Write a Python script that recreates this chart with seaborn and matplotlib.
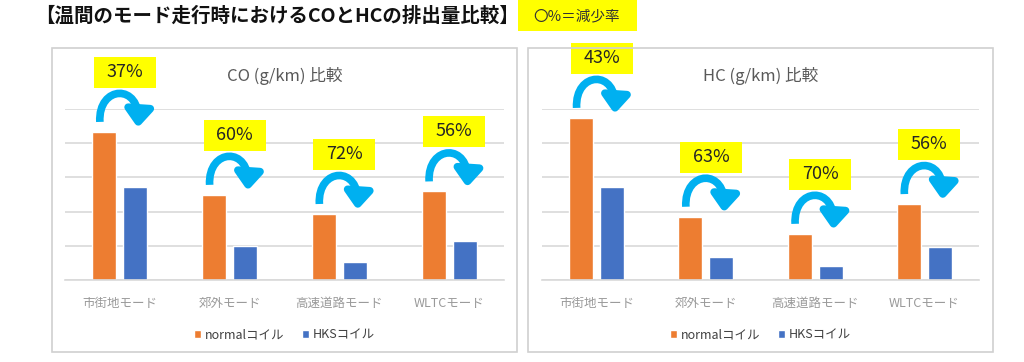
import numpy as np
import matplotlib
matplotlib.use("Agg")
import matplotlib.pyplot as plt
import matplotlib.transforms as mtransforms
from matplotlib.path import Path
from matplotlib.patches import FancyArrowPatch, Rectangle
import seaborn as sns
import pandas as pd

sns.set_theme(style="white")
plt.rcParams['font.family'] = ['Noto Sans CJK JP', 'DejaVu Sans']

# data (gridline units, no axis values shown)
modes = ["市街地モード", "郊外モード", "高速道路モード", "WLTCモード"]
coils = ["normalコイル", "HKSコイル"]
co_normal = [4.33, 2.49, 1.93, 2.59]
co_hks = [2.73, 1.00, 0.54, 1.13]
hc_normal = [4.74, 1.85, 1.35, 2.22]
hc_hks = [2.71, 0.68, 0.40, 0.97]
co_reduction = [37, 60, 72, 56]
hc_reduction = [43, 63, 70, 56]

ORANGE = "#ED7D31"
BLUE = "#4472C4"
ARROW = "#00B0F0"
GRID = "#D9D9D9"

W, H = 1024, 362
fig = plt.figure(figsize=(W / 100, H / 100), dpi=100)


def px_rect(x0, y0, x1, y1):
    # pixel box (top-left origin) -> figure fraction
    return [x0 / W, 1 - y1 / H, (x1 - x0) / W, (y1 - y0) / H]


# panel frames
for x0, x1 in [(52, 517), (528, 993)]:
    fig.patches.append(Rectangle((x0 / W, 1 - 352 / H), (x1 - x0) / W, (352 - 48) / H,
                                 transform=fig.transFigure, fill=False,
                                 edgecolor="#D0D0D0", linewidth=1.2))

fig.text(35 / W, 1 - 16 / H, "【温間のモード走行時におけるCOとHCの排出量比較】",
         fontsize=14, fontweight="bold", color="#111111", va="center", ha="left")
fig.patches.append(Rectangle((518 / W, 1 - 31 / H), (637 - 518) / W, 31 / H,
                             transform=fig.transFigure, facecolor="#FFFF00",
                             edgecolor="none"))
fig.text(577 / W, 1 - 16 / H, "〇%＝減少率", fontsize=10.5, color="#333333",
         va="center", ha="center")


def panel(rect, title, normal, hks, reduction):
    ax = fig.add_axes(rect)
    df = pd.DataFrame({
        "mode": modes * 2,
        "coil": [coils[0]] * 4 + [coils[1]] * 4,
        "value": list(normal) + list(hks),
    })
    sns.barplot(data=df, x="mode", y="value", hue="coil", order=modes,
                hue_order=coils, palette=[ORANGE, BLUE], width=0.565, gap=0.22,
                saturation=1, ax=ax)
    ax.set_ylim(0, 5)
    ax.set_xlim(-0.5, 3.5)
    ax.set_yticks(np.arange(0, 6))
    ax.yaxis.grid(True, color=GRID, linewidth=1.2)
    ax.set_axisbelow(True)
    ax.tick_params(axis="y", left=False, labelleft=False)
    ax.tick_params(axis="x", bottom=False, labelsize=9, colors="#9A9A9A", pad=6)
    for s in ["left", "right", "top"]:
        ax.spines[s].set_visible(False)
    ax.spines["bottom"].set_color(GRID)
    ax.spines["bottom"].set_linewidth(1.2)
    ax.set_xlabel("")
    ax.set_ylabel("")
    ax.set_title(title, fontsize=12, color="#595959", y=1.0, pad=20)

    leg = ax.legend(loc="upper center", bbox_to_anchor=(0.5, -0.22), ncol=2,
                    frameon=False, fontsize=9, handlelength=0.6, handleheight=0.6,
                    handletextpad=0.3, columnspacing=1.4)
    for t in leg.get_texts():
        t.set_color("#404040")

    # curved arrows and reduction labels anchored to the orange bar tops
    for i, (v, r) in enumerate(zip(normal, reduction)):
        tr = fig.dpi_scale_trans + mtransforms.ScaledTranslation(i, v, ax.transData)
        verts = np.array([(-20, 10), (-22, 47), (21, 49), (18, 4)]) / 100.0
        path = Path(verts, [Path.MOVETO, Path.CURVE4, Path.CURVE4, Path.CURVE4])
        arr = FancyArrowPatch(path=path, arrowstyle="-|>,head_length=0.5,head_width=0.4",
                              mutation_scale=20, color=ARROW, linewidth=5.5,
                              transform=tr, clip_on=False, capstyle="butt")
        ax.add_patch(arr)
        ax.add_patch(Rectangle((-26 / 100, 44 / 100), 62 / 100, 31 / 100, transform=tr,
                               facecolor="#FFFF00", edgecolor="none", clip_on=False))
        ax.text(5 / 100, 60 / 100, f"{r}%", transform=tr, ha="center", va="center",
                fontsize=13, color="#262626", clip_on=False)
    return ax


panel(px_rect(65, 109, 504, 280), "CO (g/km) 比較", co_normal, co_hks, co_reduction)
panel(px_rect(542, 109, 979, 280), "HC (g/km) 比較", hc_normal, hc_hks, hc_reduction)

fig.savefig("out.png", dpi=100)
